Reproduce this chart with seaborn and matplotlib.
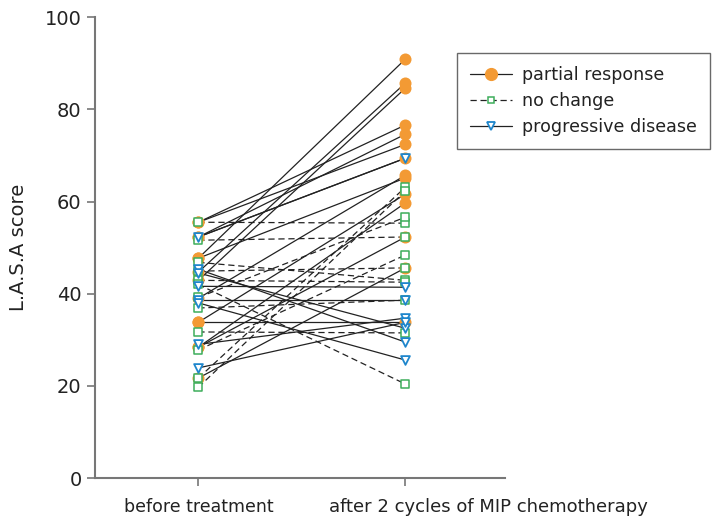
import numpy as np
import pandas as pd
import matplotlib
matplotlib.use("Agg")
import matplotlib.pyplot as plt
from matplotlib.lines import Line2D
import seaborn as sns

time_labels = ["before treatment", "after 2 cycles of MIP chemotherapy"]

pr_before = [55.5, 52.3, 47.7, 44.7, 42.9, 55.5, 52.3, 39.0, 47.7, 33.8, 28.4, 33.8, 28.4, 21.7]
pr_after = [76.6, 74.6, 90.9, 85.7, 84.6, 72.4, 69.4, 65.7, 65.1, 61.6, 59.7, 33.8, 52.3, 45.6]

nc_before = [55.5, 51.6, 46.8, 44.9, 42.9, 42.0, 39.2, 36.9, 31.7, 27.8, 21.7, 19.7]
nc_after = [55.3, 52.3, 42.9, 45.6, 42.5, 20.4, 56.6, 38.6, 31.5, 48.4, 63.1, 62.3]

pd_before = [52.3, 45.3, 44.5, 41.6, 38.6, 38.0, 29.0, 23.9]
pd_after = [69.4, 29.5, 32.5, 41.4, 38.6, 25.6, 34.7, 33.8]

groups = ["partial response", "no change", "progressive disease"]
colors = {"partial response": "#F39A34", "no change": "#3DAE5B", "progressive disease": "#1E86CC"}

rows = []
sid = 0
for g, b, a in [(groups[0], pr_before, pr_after), (groups[1], nc_before, nc_after), (groups[2], pd_before, pd_after)]:
    for vb, va in zip(b, a):
        rows.append(dict(id=sid, group=g, t=0, score=vb))
        rows.append(dict(id=sid, group=g, t=1, score=va))
        sid += 1
df = pd.DataFrame(rows)

sns.set_style("ticks")
plt.rcParams['font.family'] = ['DejaVu Sans']

fig = plt.figure(figsize=(7.13, 5.18), dpi=100)
ax = fig.add_axes([0.133, 0.077, 0.575, 0.890])

sns.lineplot(data=df, x="t", y="score", units="id", estimator=None, style="group",
             dashes={groups[0]: "", groups[1]: (5, 3), groups[2]: ""},
             color="#222222", linewidth=0.9, legend=False, ax=ax, sort=False)

sns.scatterplot(data=df[df.group == groups[0]], x="t", y="score", marker="o", s=75,
                color=colors[groups[0]], edgecolor=colors[groups[0]], linewidth=0, ax=ax, zorder=3)
sns.scatterplot(data=df[df.group == groups[1]], x="t", y="score", marker="s", s=32,
                facecolor="white", edgecolor=colors[groups[1]], linewidth=1.1, ax=ax, zorder=4)
sns.scatterplot(data=df[df.group == groups[2]], x="t", y="score", marker="v", s=40,
                facecolor="white", edgecolor=colors[groups[2]], linewidth=1.3, ax=ax, zorder=5)

ax.set_xlim(-0.5, 1.48)
ax.set_ylim(0, 100)
ax.set_xticks([0, 1])
ax.set_xticklabels([time_labels[0], ""], fontsize=12.5, color="#222222")
# the second label sits to the right of its tick in the reference
ax.annotate(time_labels[1], xy=(1, 0), xycoords=ax.get_xaxis_transform(),
            xytext=(60, -14), textcoords="offset points", ha="center", va="top",
            fontsize=13, color="#222222", annotation_clip=False)
ax.set_yticks([0, 20, 40, 60, 80, 100])
ax.tick_params(axis="y", labelsize=14, colors="#222222", length=6, width=1.2, color="#777777")
ax.tick_params(axis="x", length=6, width=1.2, color="#777777", pad=8)
ax.set_xlabel("")
ax.set_ylabel("L.A.S.A score", fontsize=14, color="#222222", labelpad=12)
for s in ["top", "right"]:
    ax.spines[s].set_visible(False)
for s in ["left", "bottom"]:
    ax.spines[s].set_color("#777777")
    ax.spines[s].set_linewidth(1.5)

handles = [
    Line2D([], [], color="#222222", lw=0.9, marker="o", markersize=8.5,
           markerfacecolor=colors[groups[0]], markeredgecolor=colors[groups[0]]),
    Line2D([], [], color="#222222", lw=0.9, ls=(0, (5, 3)), marker="s", markersize=5,
           markerfacecolor="white", markeredgecolor=colors[groups[1]], markeredgewidth=1.1),
    Line2D([], [], color="#222222", lw=0.9, marker="v", markersize=5.5,
           markerfacecolor="white", markeredgecolor=colors[groups[2]], markeredgewidth=1.3),
]
leg = fig.legend(handles, groups, loc="upper left", bbox_to_anchor=(457 / 713, 1 - 53 / 518),
                 frameon=True, fancybox=False, edgecolor="#444444", fontsize=12.6,
                 handlelength=2.4, borderpad=0.75, labelspacing=0.45, handletextpad=0.55,
                 borderaxespad=0)
leg.get_frame().set_linewidth(1.0)
for t in leg.get_texts():
    t.set_color("#222222")

fig.savefig("out.png", dpi=100)
